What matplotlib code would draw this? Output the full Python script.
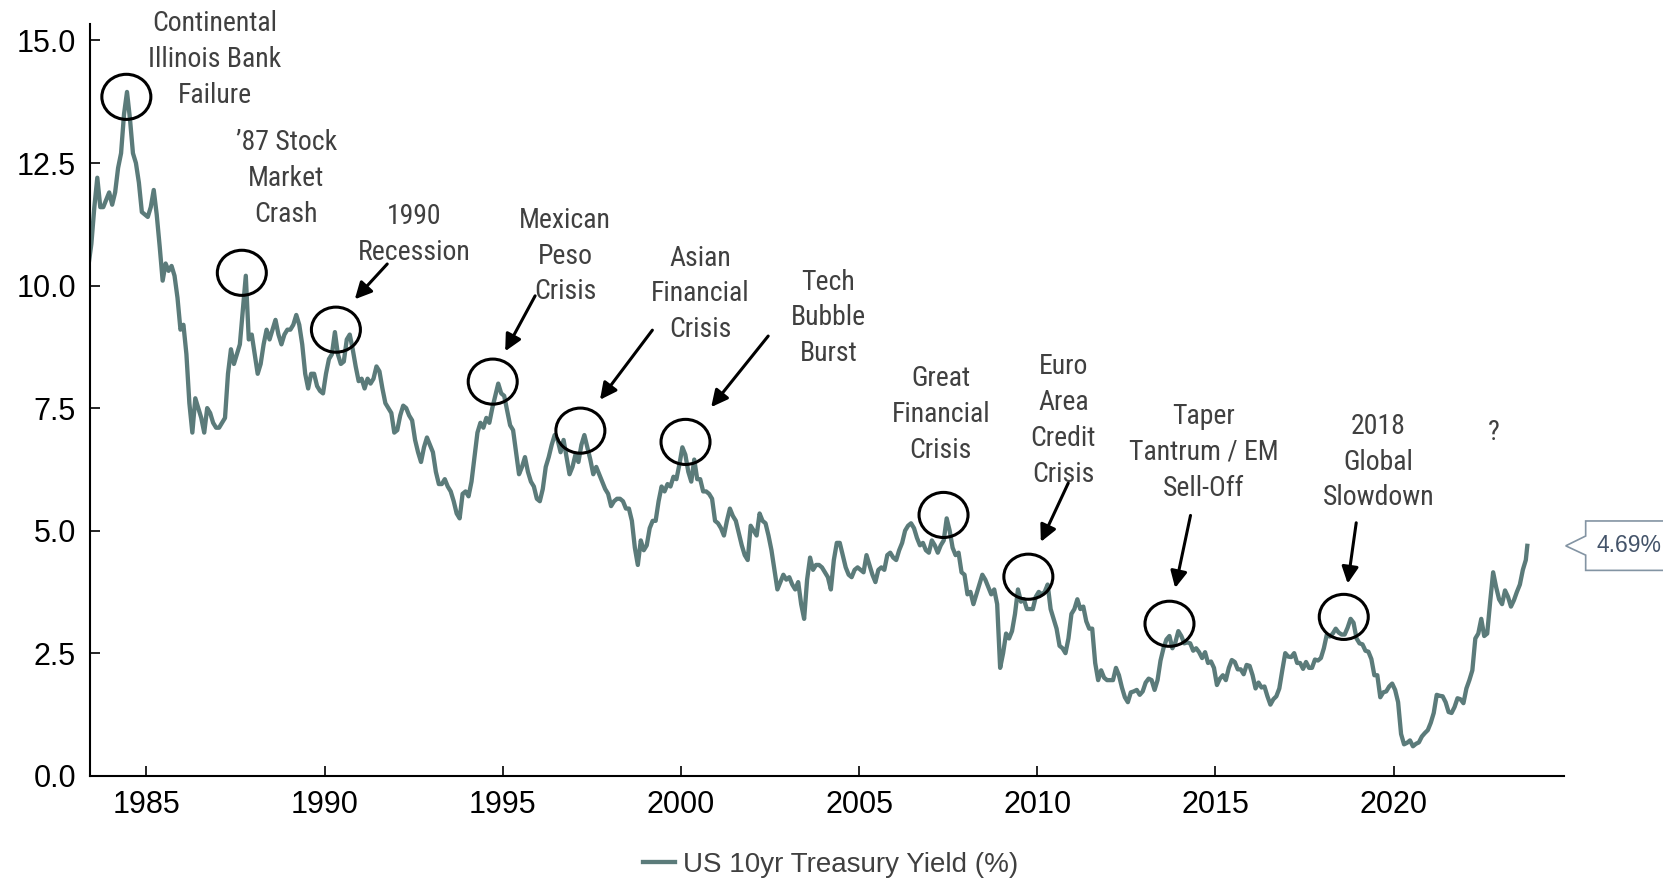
import matplotlib
matplotlib.use("Agg")
import matplotlib.pyplot as plt
from matplotlib import font_manager
from matplotlib.font_manager import FontProperties
from matplotlib.patches import Ellipse, Polygon
from matplotlib.transforms import blended_transform_factory
import numpy as np

# ---------------- data ----------------
# US 10yr Treasury yield, monthly, April 1983 .. September 2023, plus 2 Oct 2023
START_YEAR, START_MONTH = 1983, 4
yields_1980s = [
    10.2, 10.4, 10.85, 11.6, 12.2, 11.6, 11.6, 11.75, 11.9,                 # 1983 Apr-Dec
    11.65, 11.9, 12.4, 12.7, 13.5, 13.95, 13.4, 12.7, 12.5, 12.1, 11.5, 11.45,  # 1984
    11.4, 11.6, 11.95, 11.45, 10.8, 10.1, 10.45, 10.3, 10.4, 10.2, 9.75, 9.1,   # 1985
    9.2, 8.6, 7.6, 7.0, 7.7, 7.5, 7.3, 7.0, 7.5, 7.4, 7.2, 7.1,                 # 1986
    7.1, 7.2, 7.3, 8.2, 8.7, 8.4, 8.6, 8.8, 9.5, 10.2, 8.9, 9.0,                # 1987
    8.6, 8.2, 8.4, 8.8, 9.1, 8.9, 9.1, 9.3, 9.0, 8.8, 9.0, 9.1,                 # 1988
    9.1, 9.2, 9.4, 9.2, 8.8, 8.2, 7.9, 8.2, 8.2, 7.95, 7.85, 7.8,               # 1989
]
yields_1990s = [
    8.2, 8.5, 8.6, 9.05, 8.6, 8.4, 8.45, 8.9, 9.0, 8.7, 8.35, 8.05,            # 1990
    8.1, 7.9, 8.1, 8.0, 8.1, 8.35, 8.25, 7.9, 7.6, 7.5, 7.4, 7.0,              # 1991
    7.05, 7.35, 7.55, 7.5, 7.35, 7.25, 6.85, 6.6, 6.4, 6.7, 6.9, 6.75,         # 1992
    6.6, 6.2, 5.95, 5.95, 6.05, 5.9, 5.8, 5.6, 5.35, 5.25, 5.75, 5.8,          # 1993
    5.7, 6.0, 6.5, 7.0, 7.2, 7.1, 7.3, 7.2, 7.5, 7.75, 8.0, 7.8,               # 1994
    7.75, 7.45, 7.15, 7.05, 6.6, 6.15, 6.3, 6.5, 6.2, 6.0, 5.9, 5.65,          # 1995
    5.6, 5.85, 6.3, 6.5, 6.75, 6.95, 6.85, 6.6, 6.85, 6.5, 6.15, 6.3,          # 1996
    6.55, 6.4, 6.75, 6.95, 6.7, 6.45, 6.15, 6.3, 6.15, 6.0, 5.85, 5.75,        # 1997
    5.5, 5.6, 5.65, 5.65, 5.6, 5.45, 5.45, 5.2, 4.65, 4.3, 4.8, 4.6,           # 1998
    4.7, 5.05, 5.2, 5.2, 5.6, 5.9, 5.8, 5.95, 5.9, 6.1, 6.05, 6.35,            # 1999
]
yields_2000s = [
    6.7, 6.55, 6.2, 6.0, 6.45, 6.05, 6.05, 5.8, 5.8, 5.75, 5.65, 5.2,          # 2000
    5.15, 5.05, 4.9, 5.2, 5.45, 5.3, 5.2, 4.95, 4.7, 4.5, 4.4, 5.1,            # 2001
    5.0, 4.9, 5.35, 5.2, 5.15, 4.9, 4.6, 4.2, 3.8, 3.95, 4.1, 4.0,             # 2002
    4.05, 3.9, 3.8, 3.95, 3.5, 3.2, 4.0, 4.45, 4.2, 4.3, 4.3, 4.25,            # 2003
    4.15, 4.05, 3.8, 4.4, 4.75, 4.75, 4.5, 4.25, 4.1, 4.05, 4.2, 4.25,         # 2004
    4.2, 4.15, 4.5, 4.3, 4.1, 3.95, 4.2, 4.25, 4.2, 4.5, 4.55, 4.45,           # 2005
    4.4, 4.6, 4.75, 5.0, 5.1, 5.15, 5.05, 4.85, 4.7, 4.75, 4.6, 4.55,          # 2006
    4.8, 4.7, 4.55, 4.7, 4.8, 5.25, 5.0, 4.65, 4.5, 4.55, 4.15, 4.1,           # 2007
    3.7, 3.75, 3.5, 3.7, 3.9, 4.1, 4.0, 3.85, 3.7, 3.8, 3.5, 2.2,              # 2008
    2.5, 2.9, 2.8, 2.95, 3.3, 3.8, 3.55, 3.6, 3.4, 3.4, 3.4, 3.65,             # 2009
]
yields_2010s = [
    3.75, 3.7, 3.75, 3.9, 3.4, 3.2, 3.0, 2.65, 2.6, 2.5, 2.8, 3.3,             # 2010
    3.4, 3.6, 3.4, 3.45, 3.15, 3.0, 3.0, 2.3, 1.95, 2.15, 2.0, 1.95,           # 2011
    1.95, 1.95, 2.2, 2.05, 1.8, 1.6, 1.5, 1.7, 1.72, 1.75, 1.65, 1.72,         # 2012
    1.9, 1.98, 1.95, 1.75, 1.95, 2.35, 2.6, 2.78, 2.85, 2.6, 2.72, 2.95,       # 2013
    2.85, 2.7, 2.72, 2.7, 2.55, 2.6, 2.52, 2.4, 2.52, 2.3, 2.33, 2.2,          # 2014
    1.85, 1.98, 2.05, 1.95, 2.2, 2.36, 2.32, 2.17, 2.17, 2.07, 2.26, 2.24,     # 2015
    2.05, 1.78, 1.9, 1.8, 1.82, 1.62, 1.45, 1.56, 1.62, 1.78, 2.15, 2.5,       # 2016
    2.43, 2.42, 2.5, 2.3, 2.3, 2.18, 2.32, 2.2, 2.2, 2.37, 2.35, 2.4,          # 2017
    2.6, 2.88, 2.84, 2.9, 3.0, 2.92, 2.88, 2.88, 3.02, 3.2, 3.12, 2.8,         # 2018
    2.7, 2.68, 2.55, 2.53, 2.38, 2.05, 2.05, 1.6, 1.7, 1.72, 1.82, 1.88,       # 2019
]
yields_2020s = [
    1.75, 1.5, 0.85, 0.64, 0.67, 0.72, 0.6, 0.65, 0.68, 0.8, 0.87, 0.93,       # 2020
    1.08, 1.28, 1.65, 1.63, 1.62, 1.5, 1.3, 1.28, 1.4, 1.58, 1.56, 1.48,       # 2021
    1.78, 1.95, 2.15, 2.8, 2.9, 3.2, 2.85, 2.9, 3.55, 4.15, 3.85, 3.6,         # 2022
    3.5, 3.78, 3.65, 3.45, 3.58, 3.75, 3.9, 4.2, 4.4,                          # 2023 Jan-Sep
]
LAST_DATE, LAST_YIELD = 2023.75, 4.69   # 2 Oct 2023

yields = np.array(yields_1980s + yields_1990s + yields_2000s + yields_2010s
                  + yields_2020s + [LAST_YIELD])
n_months = len(yields) - 1
month_index = np.arange(n_months) + (START_MONTH - 1)
dates = np.append(START_YEAR + (month_index + 0.5) / 12.0, LAST_DATE)

# Episodes: (label, text x, text y, circle x, circle y, arrow tail, arrow head)
episodes = [
    ("Continental\nIllinois Bank\nFailure", 1986.93, 14.61, 1984.44, 13.85, None, None),
    ("\u201987 Stock\nMarket\nCrash", 1988.93, 12.19, 1987.68, 10.26, None, None),
    ("1990\nRecession", 1992.52, 11.04, 1990.32, 9.10, (1991.76, 10.44), (1990.85, 9.72)),
    ("Mexican\nPeso\nCrisis", 1996.75, 10.60, 1994.72, 8.04, (1995.91, 9.79), (1995.07, 8.66)),
    ("Asian\nFinancial\nCrisis", 2000.55, 9.83, 1997.18, 7.04, (1999.20, 9.09), (1997.73, 7.67)),
    ("Tech\nBubble\nBurst", 2004.14, 9.34, 2000.13, 6.81, (2002.45, 8.97), (2000.85, 7.52)),
    ("Great\nFinancial\nCrisis", 2007.29, 7.37, 2007.37, 5.32, None, None),
    ("Euro\nArea\nCredit\nCrisis", 2010.73, 7.25, 2009.75, 4.06, (2010.87, 5.97), (2010.10, 4.77)),
    ("Taper\nTantrum / EM\nSell-Off", 2014.67, 6.60, 2013.71, 3.10, (2014.30, 5.31), (2013.87, 3.83)),
    ("2018\nGlobal\nSlowdown", 2019.57, 6.40, 2018.60, 3.24, (2018.95, 5.16), (2018.71, 3.92)),
    ("?", 2022.82, 7.00, None, None, None, None),
]

SERIES_LABEL = "US 10yr Treasury Yield (%)"
YTICKS = [0.0, 2.5, 5.0, 7.5, 10.0, 12.5, 15.0]
XTICKS = [1985, 1990, 1995, 2000, 2005, 2010, 2015, 2020]

# ---------------- styling ----------------
LINE_COLOR = "#5b7b7a"
TEXT_COLOR = "#404040"
plt.rcParams["font.family"] = ["Liberation Sans", "DejaVu Sans"]


def narrow_font(size):
    """A narrow sans face for the episode labels, best available first."""
    fonts = font_manager.fontManager.ttflist
    names = {f.name for f in fonts}
    for name in ("Liberation Sans Narrow", "Arial Narrow", "Roboto Condensed",
                 "Noto Sans Condensed", "Open Sans Condensed"):
        if name in names:
            return FontProperties(family=name, size=size)
    for fam in ("Roboto", "Noto Sans", "Open Sans", "Liberation Sans", "DejaVu Sans"):
        for f in fonts:
            fn = f.fname.lower()
            if f.name != fam or f.style != "normal":
                continue
            if str(f.weight) not in ("400", "normal", "regular", "book"):
                continue
            if ("condensed" in str(f.stretch) or "condensed" in fn or "narrow" in fn) \
                    and "semi" not in fn and "extra" not in fn and "ultra" not in fn:
                return FontProperties(fname=f.fname, size=size)
    return FontProperties(family="DejaVu Sans", stretch="condensed", size=size)


label_font = narrow_font(20)

fig = plt.figure(figsize=(16.63, 8.81), dpi=100)
ax = fig.add_axes([0.05412, 0.11952, 0.88635, 0.85289])

line, = ax.plot(dates, yields, color=LINE_COLOR, lw=3.1, solid_joinstyle="round",
                label=SERIES_LABEL)

ax.set_xlim(1983.42, 2024.78)
ax.set_ylim(0, 15.33)
ax.set_xticks(XTICKS)
ax.set_xticklabels([str(x) for x in XTICKS])
ax.set_yticks(YTICKS)
ax.set_yticklabels([f"{v:.1f}" for v in YTICKS])
for side in ("top", "right"):
    ax.spines[side].set_visible(False)
for side in ("left", "bottom"):
    ax.spines[side].set_linewidth(1.5)
    ax.spines[side].set_color("black")
ax.tick_params(direction="in", length=7, width=1.2, labelsize=22, pad=10, colors="black")

# Episode labels, circles and arrows
for label, tx, ty, cx, cy, tail, head in episodes:
    ax.text(tx, ty, label, ha="center", va="center", multialignment="center",
            fontproperties=label_font, color=TEXT_COLOR, linespacing=1.42)
    if cx is not None:
        ax.add_patch(Ellipse((cx, cy), width=1.375, height=0.92, fill=False,
                             edgecolor="black", lw=2.2, zorder=4))
    if tail is not None:
        ax.annotate("", xy=head, xytext=tail,
                    arrowprops=dict(arrowstyle="-|>", color="black", lw=2.2,
                                    mutation_scale=25, shrinkA=0, shrinkB=0))

# Latest-value callout at the right edge
trans = blended_transform_factory(fig.transFigure, ax.transData)
v = yields[-1]
callout = Polygon([(0.9415, v), (0.9535, v + 0.20), (0.9535, v + 0.507),
                   (1.02, v + 0.507), (1.02, v - 0.501), (0.9535, v - 0.501),
                   (0.9535, v - 0.19)], closed=True, transform=trans,
                  facecolor="white", edgecolor="#8394a3", lw=1.2, clip_on=False)
fig.add_artist(callout)
fig.text(0.9601, v, f"{v:.2f}%", transform=trans, ha="left", va="center",
         fontsize=16.5, color="#44546a")

leg = fig.legend(handles=[line], labels=[SERIES_LABEL], loc="center",
                 bbox_to_anchor=(0.4994, 0.0182), frameon=False, fontsize=20,
                 handlelength=1.15, handletextpad=0.3)
for t in leg.get_texts():
    t.set_color(TEXT_COLOR)

fig.savefig("out.png", dpi=100)
